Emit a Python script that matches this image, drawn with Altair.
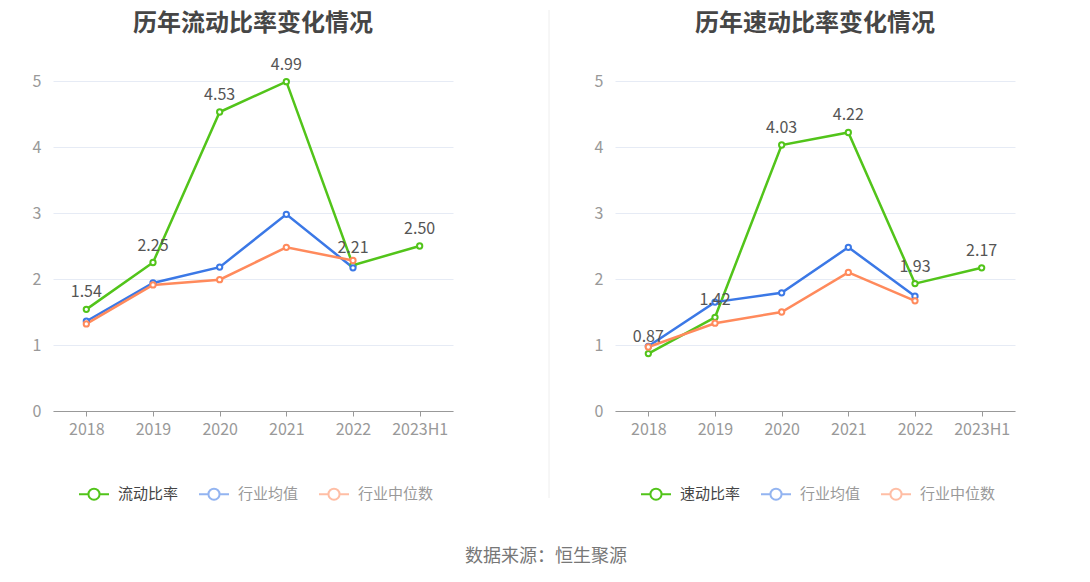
import altair as alt
import pandas as pd

years = ["2018", "2019", "2020", "2021", "2022", "2023H1"]

current_ratio = [1.54, 2.25, 4.53, 4.99, 2.21, 2.50]
current_ind_mean = [1.36, 1.94, 2.18, 2.98, 2.17, None]
current_ind_median = [1.32, 1.91, 1.99, 2.48, 2.28, None]

quick_ratio = [0.87, 1.42, 4.03, 4.22, 1.93, 2.17]
quick_ind_mean = [0.98, 1.65, 1.79, 2.48, 1.74, None]
quick_ind_median = [0.97, 1.33, 1.50, 2.10, 1.67, None]

GREEN = "#52C41A"
BLUE = "#3B78E6"
ORANGE = "#FF8A5C"
FONT = "Noto Sans CJK SC"

LEG_PATH = ("M-1,0L-0.37,0M0.37,0L1,0"
            "M0.37,0A0.37,0.37,0,1,1,-0.37,0A0.37,0.37,0,1,1,0.37,0Z")


def build(title, main_name, main_vals, mean_vals, median_vals, divider=False):
    names = [main_name, "行业均值", "行业中位数"]
    rows = []
    for name, vals in zip(names, [main_vals, mean_vals, median_vals]):
        for y, v in zip(years, vals):
            if v is not None:
                rows.append({"year": y, "series": name, "value": v})
    df = pd.DataFrame(rows)
    main_df = df[df["series"] == main_name]

    xenc = alt.X("year:N", sort=years, title=None,
                 scale=alt.Scale(type="point", padding=0.5),
                 axis=alt.Axis(labelAngle=0, labelColor="#999", labelFontSize=16,
                               labelFont=FONT, domainColor="#999", tickColor="#999",
                               tickSize=5, labelPadding=5, grid=False))
    yenc = alt.Y("value:Q", title=None,
                 scale=alt.Scale(domain=[0, 5], nice=False),
                 axis=alt.Axis(values=[0, 1, 2, 3, 4, 5], labelColor="#999",
                               labelFontSize=16, labelFont=FONT, domain=False,
                               ticks=False, gridColor="#E6EBF5", labelPadding=12,
                               minExtent=40))
    scale = alt.Scale(domain=names, range=[GREEN, BLUE, ORANGE])
    color = alt.Color("series:N", sort=names, scale=scale,
                      legend=alt.Legend(
                          title=None, orient="none", direction="horizontal",
                          legendX=25, legendY=397,
                          symbolType=LEG_PATH, symbolSize=900,
                          symbolStrokeWidth=2, symbolFillColor="white",
                          symbolOpacity={"expr": f"datum.value === '{main_name}' ? 1 : 0.55"},
                          labelColor={"expr": f"datum.value === '{main_name}' ? '#444' : '#999'"},
                          labelFontSize=15, labelFont=FONT, labelOffset=8,
                          columnPadding=16))

    lines = alt.Chart(df).mark_line(strokeWidth=2.5).encode(
        x=xenc, y=yenc, color=color)
    pts = alt.Chart(df).mark_point(filled=True, fill="white", size=28,
                                   strokeWidth=2, opacity=1).encode(
        x=xenc, y=yenc,
        stroke=alt.Color("series:N", sort=names, scale=scale, legend=None))
    labels = alt.Chart(main_df).mark_text(baseline="bottom", dy=-9, fontSize=16,
                                          font=FONT, color="#555").encode(
        x=xenc, y=yenc, text=alt.Text("value:Q", format=".2f"))
    ttl = alt.Chart(main_df.head(1)).mark_text(
        fontSize=24, font=FONT, fontWeight="bold", color="#464646",
        align="center", baseline="middle").encode(
        x=alt.value(200), y=alt.value(-57), text=alt.value(title))
    edge = "#EEEEEE" if divider else "#FFFFFF"
    div = alt.Chart(main_df.head(1)).mark_rule(
        color=edge, strokeWidth=1, opacity=1 if divider else 0).encode(
        x=alt.value(496 if divider else 200), y=alt.value(-71),
        y2=alt.value(417 if divider else -60))
    layers = [lines, pts, labels, ttl, div]
    return alt.layer(*layers).properties(width=400, height=330).resolve_scale(
        color="independent", stroke="independent")


left = build("历年流动比率变化情况", "流动比率", current_ratio,
             current_ind_mean, current_ind_median, divider=True)
right = build("历年速动比率变化情况", "速动比率", quick_ratio,
              quick_ind_mean, quick_ind_median)

chart = alt.hconcat(left, right, spacing=25).resolve_scale(
    color="independent", stroke="independent"
).properties(
    padding={"left": 5, "top": 1, "right": 5, "bottom": 5},
    title=alt.TitleParams("数据来源：恒生聚源", orient="bottom", anchor="middle",
                          fontSize=18, font=FONT, fontWeight="normal",
                          color="#777", dx=32, offset=44)
).configure_view(stroke=None)

chart.save("out.html", embed_options={"renderer": "svg", "actions": False})
